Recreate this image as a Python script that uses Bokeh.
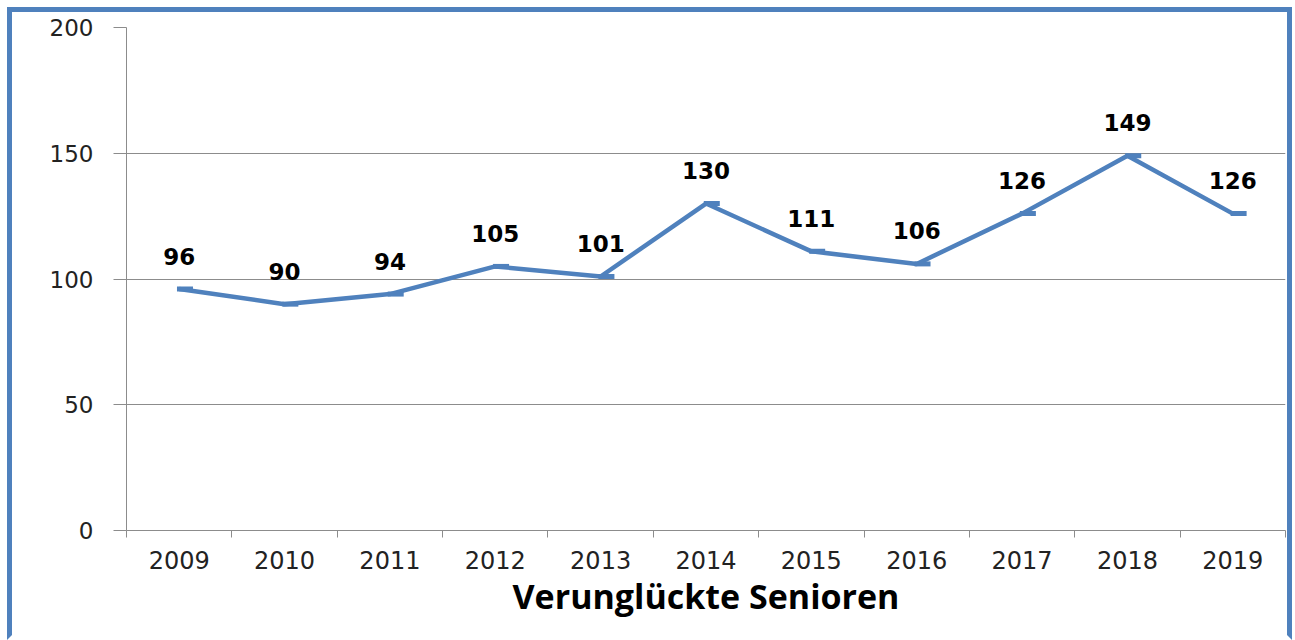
from bokeh.plotting import figure
from bokeh.models import Range1d, FixedTicker
from bokeh.transform import dodge
from bokeh.core.properties import value
from bokeh.embed import file_html
from bokeh.resources import INLINE

years = ["2009", "2010", "2011", "2012", "2013", "2014", "2015", "2016", "2017", "2018", "2019"]
counts = [96, 90, 94, 105, 101, 130, 111, 106, 126, 149, 126]
y_ticks = [0, 50, 100, 150, 200]
title_text = "Verunglückte Senioren"

xs = [i + 0.5 for i in range(len(years))]
labels = [str(c) for c in counts]

BLUE = "#4F81BD"
GRID = "#8C8C8C"

p = figure(width=1285, height=633, output_backend="svg", toolbar_location=None,
           x_range=Range1d(0, len(years)), y_range=Range1d(0, 200),
           min_border_left=114, min_border_right=12, min_border_top=15, min_border_bottom=115)
p.styles = {"border-left": f"5px solid {BLUE}", "border-top": f"5px solid {BLUE}",
            "border-right": f"5px solid {BLUE}", "border-bottom": "5px solid white",
            "margin-left": "7px", "margin-top": "7px"}
p.outline_line_color = None
p.background_fill_color = "white"
p.border_fill_color = "white"

# x axis: labels at centers, tick marks at boundaries
p.xaxis.ticker = FixedTicker(ticks=xs, minor_ticks=list(range(len(years) + 1)))
p.xaxis.major_label_overrides = {x: y for x, y in zip(xs, years)}
p.xaxis.major_tick_out = 0
p.xaxis.major_tick_in = 0
p.xaxis.minor_tick_out = 7
p.xaxis.minor_tick_in = 0
p.xaxis.minor_tick_line_color = GRID
p.xaxis.axis_line_color = GRID
p.xaxis.major_label_text_font = "DejaVu Sans"
p.xaxis.major_label_text_font_size = "24px"
p.xaxis.major_label_text_color = "#222222"
p.xaxis.major_label_standoff = 13
p.xaxis.axis_label = title_text
p.xaxis.axis_label_text_font = "Open Sans"
p.xaxis.axis_label_text_font_style = "bold"
p.xaxis.axis_label_text_font_size = "34px"
p.xaxis.axis_label_text_color = "black"
p.xaxis.axis_label_standoff = 1
p.xgrid.grid_line_color = None

p.yaxis.ticker = FixedTicker(ticks=y_ticks)
p.yaxis.major_tick_out = 13
p.yaxis.major_tick_in = 0
p.yaxis.minor_tick_line_color = None
p.yaxis.major_tick_line_color = GRID
p.yaxis.axis_line_color = GRID
p.yaxis.major_label_text_font = "DejaVu Sans"
p.yaxis.major_label_text_font_size = "23px"
p.yaxis.major_label_text_color = "#222222"
p.yaxis.major_label_standoff = 20
p.ygrid.grid_line_color = GRID
p.ygrid.grid_line_width = 1

src = dict(x=xs, y=counts, label=labels)
p.line(x="x", y="y", source=src, line_color=BLUE, line_width=4.5)
p.scatter(x=dodge("x", 0.055), y="y", source=src, marker="dash", size=16,
          line_color=BLUE, line_width=5)
p.text(x="x", y="y", text="label", source=src, text_font=value("DejaVu Sans"),
       text_font_style="bold", text_font_size="23px", text_color="black",
       text_align="center", text_baseline="middle", y_offset=-33)

open("out.html", "w").write(file_html(p, INLINE))
